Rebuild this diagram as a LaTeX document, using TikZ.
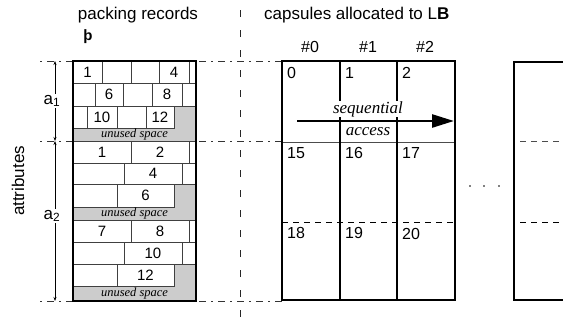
\documentclass[tikz,border=0pt]{standalone}
\usepackage{fontspec}
\setmainfont{Liberation Sans}
\newfontfamily\serifit{Liberation Serif}
\usetikzlibrary{arrows.meta,positioning}

\begin{document}
\begin{tikzpicture}[x=1pt,y=-1pt,
  every node/.style={font=\fontsize{17}{19}\selectfont, inner sep=1pt},
  cell/.style={draw=black!75, fill=white, line width=0.8pt},
  num/.style={font=\fontsize{15}{17}\selectfont},
  unused/.style={font=\serifit\itshape\fontsize{12.5}{13}\selectfont, inner sep=0pt},
  seqtxt/.style={font=\serifit\itshape\fontsize{17}{19}\selectfont, fill=white, inner sep=0.5pt},
  frame/.style={draw=black, line width=2.4pt},
  guide/.style={black!80, line width=0.7pt, dash pattern=on 2pt off 5pt on 7pt off 5pt},
  split/.style={black!85, line width=0.8pt, dash pattern=on 7pt off 13pt},
  sepline/.style={black, line width=0.8pt, dash pattern=on 6pt off 5pt},
  dim/.style={{Stealth[length=4pt,width=3pt]}-{Stealth[length=4pt,width=3pt]}, line width=0.6pt},
  seq/.style={-{Triangle[length=22pt,width=13pt]}, line width=2.6pt},
  capnum/.style={font=\fontsize{16}{18}\selectfont, anchor=north west},
  colhead/.style={font=\fontsize{16}{18}\selectfont}
]
\useasboundingbox (0,0) rectangle (563,330);

% guides between the attribute groups
\draw[split] (240,10) -- (240,330);
\foreach \y in {61,141,301} \draw[guide] (40,\y) -- (282,\y);

% titles
\node (packtitle) at (138,15) {packing records};
\node[font=\bfseries\fontsize{15}{17}\selectfont] (thorn) at (88,37) {þ};
\node[anchor=west] (captitle) at (263,15) {capsules allocated to L\textbf{B}};

% packing records column
\fill[black!20] (73,61) rectangle (196,301);
\foreach \xa/\xb/\ya/\yb/\t [count=\i] in {
  73/102/61/83/1, 102/131/61/83/{}, 131/159/61/83/{}, 159/189/61/83/4, 189/196/61/83/{},
  73/95/83/106/{}, 95/123/83/106/6, 123/152/83/106/{}, 152/182/83/106/8, 182/196/83/106/{},
  73/87/106/128/{}, 87/117/106/128/10, 117/146/106/128/{}, 146/174/106/128/12,
  73/131/141/163/1, 131/189/141/163/2, 189/196/141/163/{},
  73/124/163/184/{}, 124/182/163/184/4, 182/196/163/184/{},
  73/117/184/207/{}, 117/174/184/207/6,
  73/131/220/242/7, 131/189/220/242/8, 189/196/220/242/{},
  73/124/242/264/{}, 124/182/242/264/10, 182/196/242/264/{},
  73/117/264/286/{}, 117/174/264/286/12}
{
  \draw[cell] (\xa,\ya) rectangle (\xb,\yb);
  \node[num] (rec\i) at ({(\xa+\xb)/2},{(\ya+\yb)/2}) {\t};
}
\node[unused] (free1) at (134.5,134.5) {unused space};
\node[unused] (free2) at (134.5,213.5) {unused space};
\node[unused] (free3) at (134.5,293.5) {unused space};
\draw[frame] (73,61) rectangle (196,301);

% attribute extents
\coordinate (d0) at (55,61);
\coordinate (d1) at (55,141);
\coordinate (d2) at (55,301);
\draw[dim] (d0) -- node[fill=white, xshift=-3pt] (alab1) {a\textsubscript{1}} (d1);
\draw[dim] (d1) -- node[fill=white, xshift=-3pt, yshift=5pt] (alab2) {a\textsubscript{2}} (d2);
\node[rotate=90] (attr) at (18,181) {attributes};

% capsules
\draw[black!70, line width=0.8pt] (282,142) -- (455,142);
\draw[sepline] (282,222) -- (455,222);
\draw[frame] (282,61) rectangle (455,300);
\draw[frame] (340,61) -- (340,300);
\draw[frame] (397,61) -- (397,300);
\node[colhead] (c0) at (310,47) {\#0};
\node[colhead] (c1) at (368,47) {\#1};
\node[colhead] (c2) at (425,47) {\#2};
\foreach \x/\y/\t in {286/66/0, 344/66/1, 401/66/2,
  286/146/15, 344/146/16, 401/146/17,
  286/226/18, 344/226/19, 401/227/20}
  \node[capnum] (cap\t) at (\x,\y) {\t};

\coordinate (s0) at (297,121);
\coordinate (s1) at (454,121);
\draw[seq] (s0) -- (s1);
\node[seqtxt] (seqa) at (368,109) {sequential};
\node[seqtxt] (seqb) at (368,132) {access};

% last capsule, partly off the page
\foreach \x in {470,484,499} \fill (\x,186) circle (0.9);
\draw[black!70, line width=0.8pt, dash pattern=on 6pt off 5pt] (520,141) -- (563,141);
\draw[sepline] (520,222) -- (563,222);
\draw[frame] (580,62) -- (514,62) -- (514,300) -- (580,300);
\end{tikzpicture}
\end{document}
